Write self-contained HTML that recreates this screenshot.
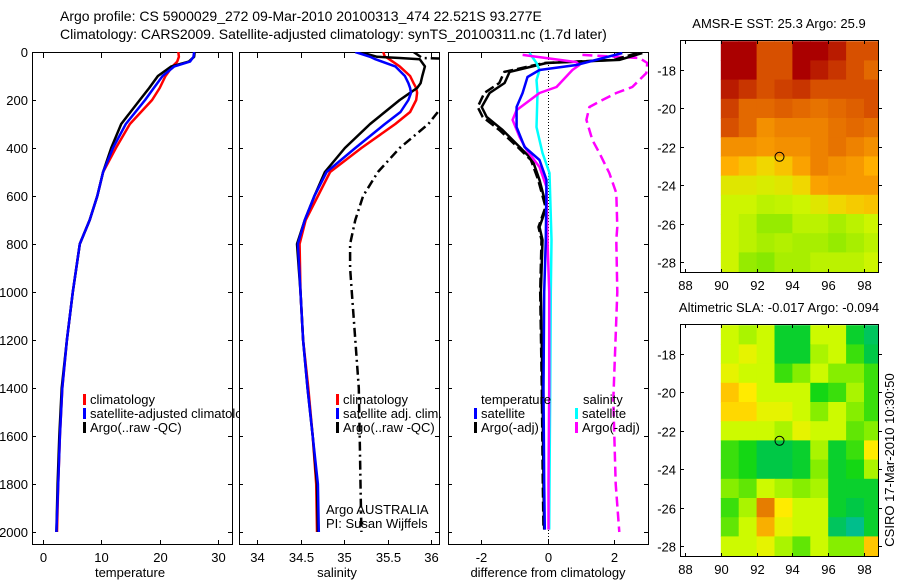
<!DOCTYPE html>
<html><head><meta charset="utf-8">
<style>
html,body{margin:0;padding:0;background:#fff;}
svg{display:block;font-family:"Liberation Sans",sans-serif;}
</style></head>
<body>
<svg id="fig" width="900" height="580" viewBox="0 0 900 580">
<text x="60" y="21" font-size="14">Argo profile: CS 5900029_272 09-Mar-2010 20100313_474 22.521S 93.277E</text>
<text x="60" y="39" font-size="14">Climatology: CARS2009. Satellite-adjusted climatology: synTS_20100311.nc (1.7d later)</text>
</svg>
<script>
// ---------- data ----------
const depthTicks=[0,200,400,600,800,1000,1200,1400,1600,1800,2000];
const tempTicks=[0,10,20,30];
const salTicks=[34,34.5,35,35.5,36];
const diffTicks=[-2,0,2];
const lonTicks=[88,90,92,94,96,98];
const latTicks=[-18,-20,-22,-24,-26,-28];

const tDepth=[0,20,40,60,100,150,200,300,400,500,600,700,800,1000,1200,1400,1600,1800,2000];
const tClim=[23.2,23.3,23.0,22.2,21.0,20.0,18.7,14.9,12.5,10.3,9.3,8.0,6.3,5.1,4.1,3.3,2.9,2.6,2.4];
const tSat=[25.9,25.8,25.2,22.5,20.5,19.0,17.5,14.2,12.0,10.3,9.3,8.0,6.3,5.1,4.1,3.3,2.9,2.6,2.3];
const tArgo=[26.0,25.9,25.0,22.0,19.7,18.2,16.6,13.4,11.7,10.3,9.3,8.0,6.3,5.1,4.1,3.2,2.8,2.5,2.3];

const sDepth=[0,20,25,30,60,100,130,150,170,200,250,300,400,500,600,700,800,1000,1200,1400,1600,1800,2000];
const sClim=[35.45,35.47,35.5,35.52,35.64,35.76,35.8,35.83,35.84,35.83,35.76,35.59,35.2,34.84,34.7,34.56,34.49,34.5,34.53,34.59,34.64,34.68,34.69];
const sSat=[35.13,35.3,35.33,35.36,35.59,35.7,35.74,35.76,35.77,35.74,35.65,35.47,35.13,34.8,34.66,34.55,34.47,34.5,34.53,34.58,34.64,34.7,34.71];
const sArgo=[35.18,35.38,35.64,35.87,35.93,35.9,35.88,35.84,35.76,35.64,35.47,35.3,35.01,34.78,34.66,34.55,34.46,34.5,34.53,34.58,34.64,34.69,34.70];
const sRawDepth=[0,25,30,240,300,400,500,600,700,800,900,1000,1200,1400,1600,1800,2000];
const sRaw=[35.8,35.9,36.4,36.1,35.97,35.64,35.39,35.22,35.13,35.07,35.07,35.09,35.13,35.17,35.18,35.19,35.2];

const dTDepth=[4,54,75,104,171,229,313,396,450,533,783,1000,1400,1800,1990];
const dTSat=[2.25,0.87,-0.24,-0.6,-0.75,-0.93,-0.93,-0.69,-0.24,-0.03,-0.05,-0.1,-0.12,-0.1,-0.08];
const dTArgoDepth=[4,33,46,83,129,171,229,271,325,396,450,533,646,729,783,1000,1400,1800,1990];
const dTArgo=[2.85,2.16,-0.03,-1.14,-1.29,-1.74,-1.98,-1.83,-1.35,-0.84,-0.45,-0.24,-0.03,-0.24,-0.15,-0.2,-0.15,-0.12,-0.1];
const dTRaw=[2.7,2.0,-0.1,-1.3,-1.45,-1.9,-2.1,-1.95,-1.45,-0.9,-0.5,-0.28,-0.06,-0.27,-0.18,-0.22,-0.17,-0.14,-0.12];
const dSSatDepth=[4,46,75,117,171,313,421,504,783,1000,1400,1800,1990];
const dSSat=[-0.54,-0.33,-0.24,-0.33,-0.3,-0.33,-0.15,0.06,0.12,0.1,0.08,0.06,0.05];
const dSArgoDepth=[12,42,54,75,146,171,242,283,354,408,479,563,783,1000,1400,1800,1990];
const dSArgo=[-0.75,0.87,0.96,0.75,0.27,-0.24,-0.93,-1.05,-0.84,-0.63,-0.24,-0.03,0.0,0.05,0.05,0.03,0.03];
const dSRawDepth=[12,25,46,88,146,171,200,229,283,367,421,504,588,729,783,1000,1450,1800,2000];
const dSRaw=[1.05,2.76,3.0,2.97,2.55,2.07,1.65,1.26,1.17,1.35,1.56,1.86,2.07,2.1,2.07,2.1,1.98,2.05,2.16];

const sstGrid=[
[1.0,1.0,0.85,0.85,1.0,1.0,0.95,0.85,0.85],
[1.0,1.0,0.85,0.85,1.0,0.95,0.9,0.85,0.8],
[0.95,0.9,0.85,0.88,0.9,0.85,0.85,0.85,0.85],
[0.88,0.8,0.8,0.82,0.8,0.78,0.8,0.82,0.85],
[0.85,0.8,0.72,0.75,0.75,0.75,0.78,0.8,0.78],
[0.72,0.72,0.7,0.72,0.72,0.75,0.78,0.75,0.72],
[0.65,0.6,0.55,0.6,0.68,0.75,0.72,0.7,0.65],
[0.5,0.5,0.48,0.5,0.55,0.68,0.7,0.7,0.7],
[0.45,0.45,0.4,0.42,0.45,0.5,0.55,0.58,0.6],
[0.45,0.4,0.3,0.3,0.4,0.4,0.35,0.4,0.45],
[0.45,0.4,0.35,0.38,0.35,0.35,0.3,0.35,0.4],
[0.45,0.3,0.25,0.35,0.35,0.4,0.4,0.4,0.45]];
const slaGrid=[
[0.5,0.45,0.5,0.2,0.2,0.5,0.5,0.2,0.1],
[0.5,0.55,0.5,0.2,0.2,0.45,0.5,0.3,0.15],
[0.55,0.5,0.5,0.3,0.4,0.5,0.4,0.4,0.3],
[0.7,0.6,0.5,0.5,0.5,0.25,0.3,0.45,0.3],
[0.65,0.65,0.55,0.55,0.5,0.4,0.5,0.4,0.3],
[0.5,0.5,0.5,0.45,0.55,0.5,0.5,0.35,0.4],
[0.3,0.25,0.15,0.15,0.2,0.45,0.2,0.3,0.6],
[0.3,0.25,0.15,0.15,0.2,0.4,0.2,0.25,0.45],
[0.4,0.35,0.5,0.45,0.4,0.45,0.2,0.2,0.2],
[0.3,0.45,0.85,0.6,0.5,0.5,0.2,0.15,0.2],
[0.35,0.5,0.75,0.55,0.5,0.5,0.1,0.0,0.2],
[0.5,0.5,0.55,0.45,0.35,0.5,0.4,0.4,0.7]];
const argoLon=93.28, argoLat=-22.52;

// ---------- helpers ----------
const NS="http://www.w3.org/2000/svg";
const svg=document.getElementById('fig');
function mk(tag,attrs,parent){const e=document.createElementNS(NS,tag);for(const k in attrs)e.setAttribute(k,attrs[k]);(parent||svg).appendChild(e);return e;}
const yD=d=>52+d*0.24;
function scale(d0,d1,r0,r1){return v=>r0+(v-d0)*(r1-r0)/(d1-d0);}

const legClip=mk('clipPath',{id:'legclip'});
const lcr=mk('rect',{x:0,y:0,width:240,height:580},legClip);



const panels=[
 {name:'temperature',x0:32,x1:232,sx:scale(0,30,43,218),ticks:tempTicks,label:'temperature'},
 {name:'salinity',x0:239,x1:439,sx:scale(34,36,257,431),ticks:salTicks,label:'salinity'},
 {name:'difference',x0:448,x1:648,sx:scale(-2,2,481,614),ticks:diffTicks,label:'difference from climatology'}];

panels.forEach((p,i)=>{
  const cp=mk('clipPath',{id:'clip'+i});
  const cr=mk('rect',{x:p.x0,y:52,width:p.x1-p.x0,height:493},cp);
  
  
  const fr=mk('rect',{x:p.x0+0.5,y:52.5,width:p.x1-p.x0,height:492,fill:'none',stroke:'#000','stroke-width':1});
  
  
  p.ticks.forEach(t=>{
    const x=Math.round(p.sx(t))+0.5;
    const tk=mk('path',{d:`M${x} 545V540M${x} 53V58`,stroke:'#000'});
    
    
    const tl=mk('text',{x:x,y:562,'font-size':13,'text-anchor':'middle'});
    tl.textContent=String(t);
    
    
  });
  depthTicks.forEach(d=>{
    const y=Math.round(yD(d))+0.5;
    const tk=mk('path',{d:`M${p.x0} ${y}h4M${p.x1} ${y}h-4`,stroke:'#000'});
    
    
  });
  const xl=mk('text',{x:(p.x0+p.x1)/2+(i==2?0:-2),y:577,'font-size':13,'text-anchor':'middle'});
  xl.textContent=p.label;
  
  
});
depthTicks.forEach(d=>{
  const tl=mk('text',{x:28,y:yD(d)+5,'font-size':13,'text-anchor':'end'});
  tl.textContent=String(d);
  
  
});

function line(i,xs,ds,sx,color,dash,name,w){
  const pts=xs.map((v,k)=>sx(v).toFixed(1)+','+yD(ds[k]).toFixed(1)).join(' ');
  const a={points:pts,fill:'none',stroke:color,'stroke-width':w||2.5,'stroke-linejoin':'round','clip-path':`url(#clip${i})`};
  if(dash)a['stroke-dasharray']=dash;
  const e=mk('polyline',a);
  
  
}
const P=panels;
line(0,tClim,tDepth,P[0].sx,'#f00',null,'temp-climatology-line');
line(0,tArgo,tDepth,P[0].sx,'#000',null,'temp-argo-line');
line(0,tSat,tDepth,P[0].sx,'#00f',null,'temp-satellite-line');
line(1,sRaw,sRawDepth,P[1].sx,'#000','9,4,2,4','salinity-argo-raw-line');
line(1,sClim,sDepth,P[1].sx,'#f00',null,'salinity-climatology-line');
line(1,sArgo,sDepth,P[1].sx,'#000',null,'salinity-argo-line');
line(1,sSat,sDepth,P[1].sx,'#00f',null,'salinity-satellite-line');
const zx=Math.round(P[2].sx(0))+0.5;
const zl=mk('line',{x1:zx,x2:zx,y1:53,y2:545,stroke:'#000','stroke-dasharray':'1,2'});


line(2,dSRaw,dSRawDepth,P[2].sx,'#f0f','10,5','diff-salinity-argo-raw-line');
line(2,dTRaw,dTArgoDepth,P[2].sx,'#000','10,4','diff-temp-argo-raw-line');
line(2,dTArgo,dTArgoDepth,P[2].sx,'#000',null,'diff-temp-argo-line');
line(2,dSSat,dSSatDepth,P[2].sx,'#0ff',null,'diff-salinity-satellite-line');
line(2,dSArgo,dSArgoDepth,P[2].sx,'#f0f',null,'diff-salinity-argo-line');
line(2,dTSat,dTDepth,P[2].sx,'#00f',null,'diff-temp-satellite-line');

function legend(x,y,color,text,name,clip){
  const m=mk('rect',{x:x,y:y-10,width:3,height:11,fill:color});
  
  
  const a={x:x+7,y:y,'font-size':13};
  if(clip)a['clip-path']='url(#legclip)';
  const t=mk('text',a);
  t.textContent=text;
  
  
}
legend(83,404,'#f00','climatology','temp-legend-climatology',true);
legend(83,418,'#00f','satellite-adjusted climatology','temp-legend-satellite',true);
legend(83,432,'#000','Argo(..raw -QC)','temp-legend-argo',true);
legend(336,404,'#f00','climatology','sal-legend-climatology');
legend(336,418,'#00f','satellite adj. clim.','sal-legend-satellite');
legend(336,432,'#000','Argo(..raw -QC)','sal-legend-argo');
[['temperature',481,404],['salinity',583,404]].forEach(a=>{
  const t=mk('text',{x:a[1],y:a[2],'font-size':13});t.textContent=a[0];
  
  
});
legend(474,418,'#00f','satellite','diff-legend-temp-satellite');
legend(474,432,'#000','Argo(-adj)','diff-legend-temp-argo');
legend(575,418,'#0ff','satellite','diff-legend-sal-satellite');
legend(575,432,'#f0f','Argo(-adj)','diff-legend-sal-argo');
[['Argo AUSTRALIA',514],['PI: Susan Wijffels',528]].forEach(a=>{
  const t=mk('text',{x:326,y:a[1],'font-size':13});t.textContent=a[0];
  
  
});

// ---------- maps ----------
function interp(stops,v){
  for(let k=1;k<stops.length;k++){if(v<=stops[k][0]){const a=stops[k-1],b=stops[k];const f=(v-a[0])/(b[0]-a[0]||1);
    return 'rgb('+[0,1,2].map(j=>Math.round(a[1][j]+(b[1][j]-a[1][j])*f)).join(',')+')';}}
  return 'rgb('+stops[stops.length-1][1].join(',')+')';
}
const sstStops=[[0,[60,220,0]],[0.3,[150,235,0]],[0.45,[205,245,0]],[0.55,[240,215,0]],[0.65,[255,175,0]],[0.75,[238,130,0]],[0.85,[215,80,0]],[1.0,[170,0,0]]];
const slaStops=[[0,[0,190,140]],[0.15,[0,200,70]],[0.25,[20,215,20]],[0.38,[120,235,0]],[0.5,[205,250,0]],[0.6,[255,235,0]],[0.72,[255,190,0]],[0.9,[220,100,0]]];
function map(top,grid,stops,title,name){
  const sx=scale(88,98,685,864), sy=scale(-18,-28,top+30,top+222);
  const tt=mk('text',{x:779,y:top-12,'font-size':13,'text-anchor':'middle'});
  tt.textContent=title;
  
  
  grid.forEach((row,r)=>row.forEach((v,c)=>{
    const x0=sx(90+c),x1=Math.min(sx(91+c),878),y0=sy(-16.5-r),y1=sy(-17.5-r);
    const cell=mk('rect',{x:x0.toFixed(1),y:y0.toFixed(1),width:(x1-x0+0.5).toFixed(1),height:(y1-y0+0.5).toFixed(1),fill:interp(stops,v)});
    
    
  }));
  const fr=mk('rect',{x:680.5,y:top+0.5,width:198,height:232,fill:'none',stroke:'#000'});
  
  
  lonTicks.forEach(l=>{
    const x=Math.round(sx(l))+0.5;
    const tk=mk('path',{d:`M${x} ${top+233}v-4M${x} ${top}v4`,stroke:'#000'});
    
    
    const tl=mk('text',{x:x,y:top+250,'font-size':13,'text-anchor':'middle'});
    tl.textContent=String(l);
    
    
  });
  latTicks.forEach(l=>{
    const y=Math.round(sy(l))+0.5;
    const tk=mk('path',{d:`M680 ${y}h4M878 ${y}h4`,stroke:'#000'});
    
    
    const tl=mk('text',{x:676,y:y+5,'font-size':13,'text-anchor':'end'});
    tl.textContent=String(l);
    
    
  });
  const c=mk('circle',{cx:sx(argoLon),cy:sy(argoLat),r:4.5,fill:'none',stroke:'#000','stroke-width':1});
  
  
}
map(40,sstGrid,sstStops,'AMSR-E SST: 25.3 Argo: 25.9','sst-map');
map(324,slaGrid,slaStops,'Altimetric SLA: -0.017 Argo: -0.094','sla-map');
const cs=mk('text',{x:0,y:0,'font-size':13,'text-anchor':'middle',transform:'translate(894,460) rotate(-90)'});
cs.textContent='CSIRO 17-Mar-2010 10:30:50';


</script>
</body></html>
